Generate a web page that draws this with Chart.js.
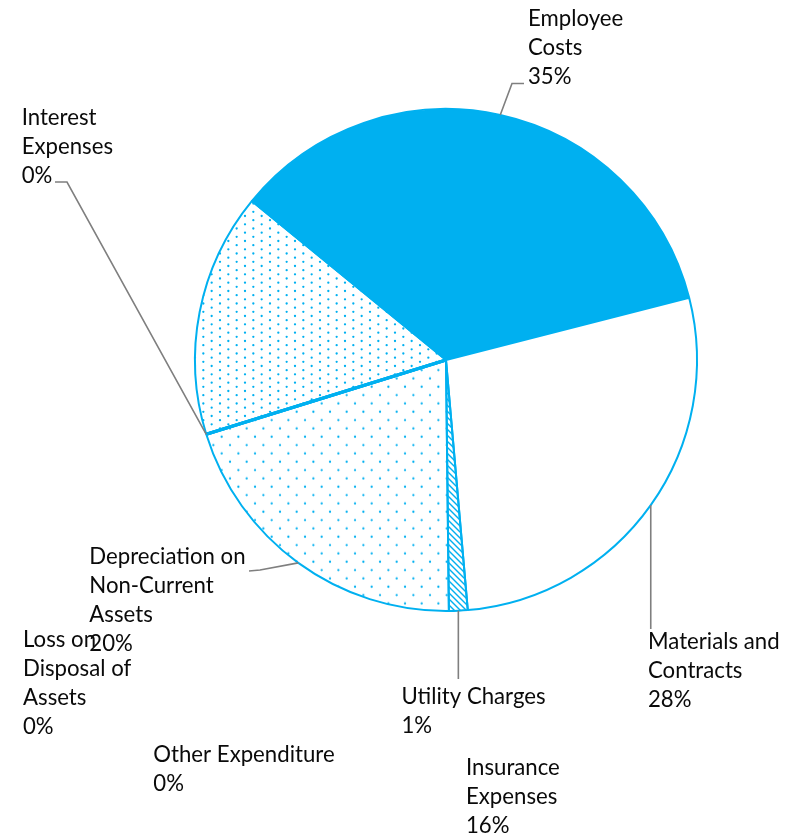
<!DOCTYPE html>
<html>
<head>
<meta charset="utf-8">
<script src="https://cdn.jsdelivr.net/npm/chart.js@4.4.1/dist/chart.umd.min.js"></script>
<style>
  html, body { margin: 0; padding: 0; background: #ffffff; }
  #wrap { width: 791px; height: 839px; position: relative; }
</style>
</head>
<body>
<div id="wrap"><canvas id="expenditure"></canvas></div>
<script>
// Expense categories, in drawing order (clockwise from the top-left edge of Employee Costs)
const categories = [
  'Employee Costs',
  'Materials and Contracts',
  'Utility Charges',
  'Depreciation on Non-Current Assets',
  'Loss on Disposal of Assets',
  'Other Expenditure',
  'Interest Expenses',
  'Insurance Expenses'
];

// Share of total expenditure, per cent
const shares = [35.1, 27.6, 1.2, 20.4, 0, 0, 0, 15.7];

// How each category name wraps in its data label
const labelLines = [
  ['Employee', 'Costs'],
  ['Materials and', 'Contracts'],
  ['Utility Charges'],
  ['Depreciation on', 'Non-Current', 'Assets'],
  ['Loss on', 'Disposal of', 'Assets'],
  ['Other Expenditure'],
  ['Interest', 'Expenses'],
  ['Insurance', 'Expenses']
];

// Label placement: left edge, top of first line, and leader-line elbows
// (a null x means "straight down from the slice edge")
const labelLayout = [
  { x: 528,   top: 10.7,  leader: [[524, 83.5], [512, 83.5]] },
  { x: 648,   top: 634,   leader: [[null, 629]] },
  { x: 401.5, top: 688.3, leader: [[null, 679]] },
  { x: 89.3,  top: 548.3, leader: [[249, 571], [260, 570]] },
  { x: 23,    top: 631.7, leader: null },
  { x: 153.3, top: 746.7, leader: null },
  { x: 21.7,  top: 109.3, leader: [[55, 182], [67, 182]] },
  { x: 466,   top: 760,   leader: null }
];

const BLUE = '#00B0F0';
const TEXT = '#0a0a0a';
const LEADER = '#7f7f7f';
const FONT_SIZE = 22.2;
const LINE_STEP = 29;
const CAP = 15.2;

// Staggered dot fill; rowStep sets how dense the rows are
function dotPattern(ctx, rowStep, originX, originY) {
  const T = 50, cell = 50 / 3;
  const c = document.createElement('canvas');
  c.width = T; c.height = T;
  const g = c.getContext('2d');
  g.fillStyle = BLUE;
  const rows = Math.round(T / rowStep);
  for (let r = 0; r < rows; r++) {
    const xo = (r % 2) * cell / 2;
    for (let k = 0; k < 3; k++) {
      const px = k * cell + xo, py = r * rowStep;
      for (const dx of [-T, 0, T]) for (const dy of [-T, 0, T]) {
        g.beginPath();
        g.arc(px + dx, py + dy, 1.15, 0, Math.PI * 2);
        g.fill();
      }
    }
  }
  const p = ctx.createPattern(c, 'repeat');
  p.setTransform(new DOMMatrix([1, 0, 0, 1, originX, originY]));
  return p;
}

// Downward diagonal hatching
function hatchPattern(ctx) {
  const S = 6;
  const c = document.createElement('canvas');
  c.width = S; c.height = S;
  const g = c.getContext('2d');
  g.strokeStyle = BLUE;
  g.lineWidth = 1.4;
  for (const o of [-S, 0, S]) {
    g.beginPath();
    g.moveTo(o - 1, -1);
    g.lineTo(o + S + 1, S + 1);
    g.stroke();
  }
  return ctx.createPattern(c, 'repeat');
}

const sliceLabels = {
  id: 'sliceLabels',
  afterDatasetsDraw(chart) {
    const ctx = chart.ctx;
    const meta = chart.getDatasetMeta(0);
    const vals = chart.data.datasets[0].data;
    const total = vals.reduce((a, b) => a + b, 0);
    ctx.save();

    // zero-share categories still show their radial edge
    meta.data.forEach((arc, i) => {
      if (vals[i] !== 0) return;
      const p = arc.getProps(['x', 'y', 'startAngle', 'outerRadius'], true);
      ctx.strokeStyle = BLUE;
      ctx.lineWidth = 3;
      ctx.beginPath();
      ctx.moveTo(p.x, p.y);
      ctx.lineTo(p.x + p.outerRadius * Math.cos(p.startAngle), p.y + p.outerRadius * Math.sin(p.startAngle));
      ctx.stroke();
    });

    ctx.font = FONT_SIZE + 'px Lato';
    ctx.textAlign = 'left';
    ctx.textBaseline = 'alphabetic';
    meta.data.forEach((arc, i) => {
      const p = arc.getProps(['x', 'y', 'startAngle', 'endAngle', 'outerRadius'], true);
      const mid = (p.startAngle + p.endAngle) / 2;
      const ax = p.x + p.outerRadius * Math.cos(mid);
      const ay = p.y + p.outerRadius * Math.sin(mid);
      const lay = labelLayout[i];
      if (lay.leader) {
        ctx.strokeStyle = LEADER;
        ctx.lineWidth = 1.6;
        ctx.beginPath();
        lay.leader.forEach(([lx, ly], k) => {
          const X = lx === null ? ax : lx;
          if (k === 0) ctx.moveTo(X, ly); else ctx.lineTo(X, ly);
        });
        ctx.lineTo(ax, ay);
        ctx.stroke();
      }
      const pct = Math.round(vals[i] / total * 100) + '%';
      const lines = labelLines[i].concat([pct]);
      ctx.fillStyle = TEXT;
      lines.forEach((t, k) => ctx.fillText(t, lay.x, lay.top + CAP + k * LINE_STEP));
    });
    ctx.restore();
  }
};

function build() {
  const canvas = document.getElementById('expenditure');
  const ctx = canvas.getContext('2d');
  const fills = [
    BLUE,
    '#ffffff',
    hatchPattern(ctx),
    dotPattern(ctx, 50 / 6, 305, 486.7),
    '#ffffff',
    '#ffffff',
    '#ffffff',
    dotPattern(ctx, 50 / 12, 245, 241)
  ];
  new Chart(ctx, {
    type: 'pie',
    data: {
      labels: categories,
      datasets: [{
        data: shares,
        backgroundColor: fills,
        borderColor: BLUE,
        borderWidth: 2,
        hoverOffset: 0,
        offset: 0
      }]
    },
    options: {
      responsive: true,
      maintainAspectRatio: false,
      animation: false,
      events: [],
      rotation: 309.3,
      layout: { padding: { left: 194, right: 93, top: 108, bottom: 227 } },
      plugins: {
        legend: { display: false },
        tooltip: { enabled: false }
      }
    },
    plugins: [sliceLabels]
  });
}

if (document.fonts && document.fonts.load) {
  document.fonts.load(FONT_SIZE + 'px Lato').then(build, build);
} else {
  build();
}
</script>
</body>
</html>
